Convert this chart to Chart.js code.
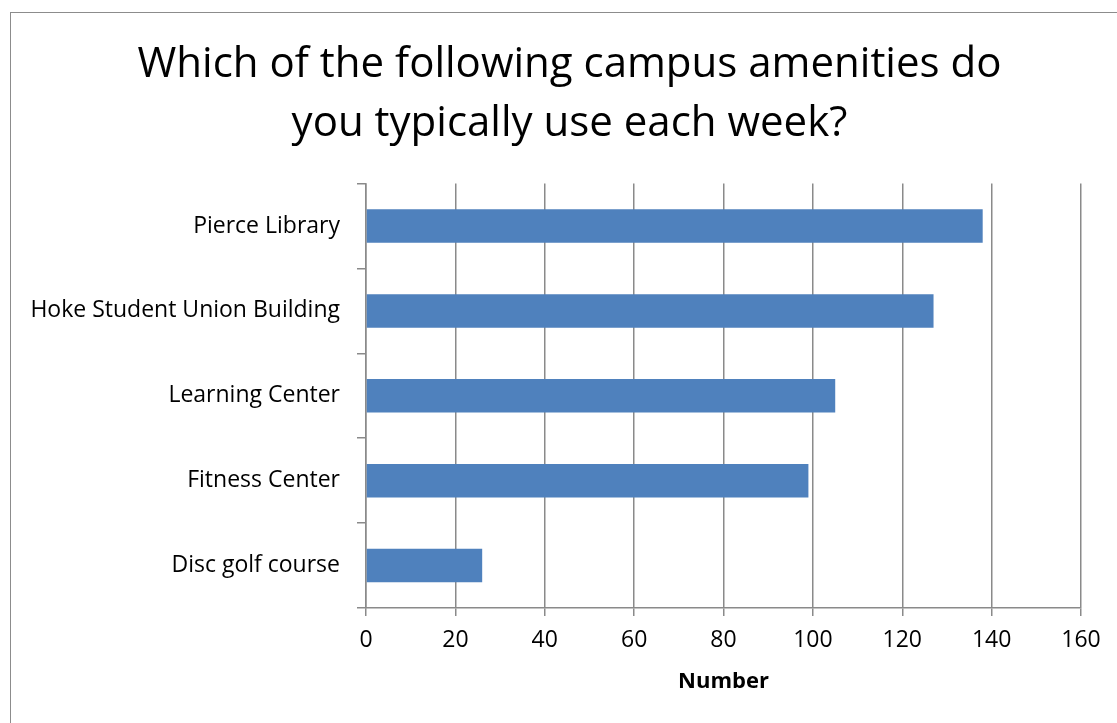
<!DOCTYPE html>
<html>
<head>
<meta charset="utf-8">
<script src="https://cdn.jsdelivr.net/npm/chart.js@4/dist/chart.umd.min.js"></script>
<style>
  html, body { margin: 0; padding: 0; background: #fff; }
  #wrap { width: 1117px; height: 723px; }
</style>
</head>
<body>
<div id="wrap"><canvas id="amenities" width="1117" height="723"></canvas></div>
<script>
const categories = [
  "Pierce Library",
  "Hoke Student Union Building",
  "Learning Center",
  "Fitness Center",
  "Disc golf course",
]
const counts = [138, 127, 105, 99, 26]
const xMin = 0
const xMax = 160
const xStep = 20

const FONT = "'Open Sans', 'Noto Sans', sans-serif"
const GRID = "#8a8a8a"

// thin frame around the whole chart object
const frame = {
  id: "frame",
  beforeDraw(chart) {
    const ctx = chart.ctx
    ctx.save()
    ctx.strokeStyle = "#8c8c8c"
    ctx.lineWidth = 1
    ctx.strokeRect(10.5, 12.5, chart.width, chart.height)
    ctx.restore()
  },
}

// title is centred on the frame rather than on the padded layout box
const titleShift = {
  id: "titleShift",
  afterLayout(chart) {
    const t = chart.titleBlock
    if (!t) return
    t.left += 24
    t.right += 24
  },
}

const ctx = document.getElementById("amenities").getContext("2d")

new Chart(ctx, {
  type: "bar",
  data: {
    labels: categories,
    datasets: [
      {
        label: "Number",
        data: counts,
        backgroundColor: "#4f81bd",
        borderWidth: 0,
        barPercentage: 0.395,
        categoryPercentage: 1,
      },
    ],
  },
  options: {
    indexAxis: "y",
    responsive: false,
    animation: false,
    layout: { padding: { left: 10, right: 36, top: 0, bottom: 0 } },
    plugins: {
      legend: { display: false },
      tooltip: { enabled: false },
      title: {
        display: true,
        text: ["Which of the following campus amenities do", "you typically use each week?"],
        color: "#000",
        font: { family: FONT, size: 42, weight: "normal", lineHeight: 1.4 },
        padding: { top: 36, bottom: 30 },
      },
    },
    scales: {
      y: {
        afterFit: (scale) => { scale.width = 356 },
        grid: {
          offset: true,
          drawOnChartArea: false,
          tickLength: 9,
          color: GRID,
          lineWidth: 1.5,
        },
        border: { color: GRID, width: 1.5 },
        ticks: {
          color: "#000",
          padding: 17,
          font: { family: FONT, size: 23 },
        },
      },
      x: {
        min: xMin,
        max: xMax,
        afterFit: (scale) => { scale.height = 115 },
        grid: {
          tickLength: 8,
          color: GRID,
          lineWidth: 1.5,
        },
        border: { color: GRID, width: 1.5 },
        ticks: {
          stepSize: xStep,
          color: "#000",
          padding: 11,
          font: { family: FONT, size: 23 },
        },
        title: {
          display: true,
          text: "Number",
          color: "#000",
          font: { family: FONT, size: 22, weight: "bold" },
          padding: { top: 4, bottom: 28 },
        },
      },
    },
  },
  plugins: [frame, titleShift],
})
</script>
</body>
</html>
